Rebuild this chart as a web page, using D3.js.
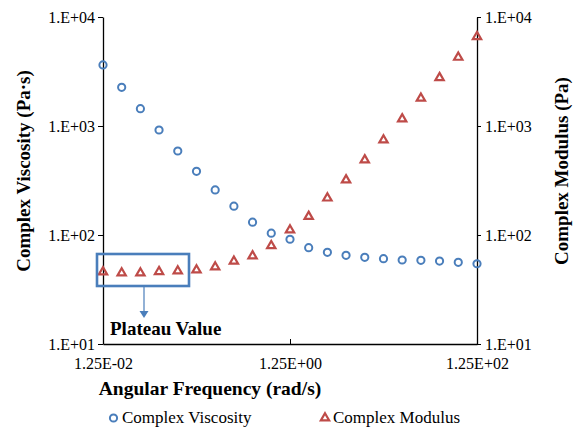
<!DOCTYPE html>
<html>
<head>
<meta charset="utf-8">
<script src="https://cdn.jsdelivr.net/npm/d3@7"></script>
<style>
  body { margin: 0; background: #fff; }
  svg { display: block; }
</style>
</head>
<body>
<script>
// frequency points: 10 per decade from 0.0125 to 125 rad/s
const freq = [0.0125, 0.0157, 0.0198, 0.0249, 0.0314, 0.0395, 0.0497, 0.0626, 0.0788, 0.0992,
  0.125, 0.157, 0.198, 0.249, 0.314, 0.395, 0.497, 0.626, 0.788, 0.992,
  1.25, 1.57, 1.98, 2.49, 3.14, 3.95, 4.97, 6.26, 7.88, 9.92,
  12.5, 15.7, 19.8, 24.9, 31.4, 39.5, 49.7, 62.6, 78.8, 99.2, 125];
// only every other frequency is shown (5 per decade)
const shownFreq = freq.filter((d, i) => i % 2 === 0);

const viscosity = [3630, 2265, 1441, 919, 590, 384, 259, 184, 131, 104,
  91.4, 76.5, 69.4, 65.1, 62.4, 60.6, 59.0, 58.6, 57.7, 56.2, 54.5];
const modulus = [45.8, 44.8, 44.8, 46.1, 46.7, 47.7, 50.8, 57.4, 64.2, 79.7,
  111, 148, 218, 320, 488, 744, 1160, 1795, 2773, 4266, 6600];

const yTicks = [10, 100, 1000, 10000];
const yTickLabels = ["1.E+01", "1.E+02", "1.E+03", "1.E+04"];
const xTicks = [0.0125, 1.25, 125];
const xTickLabels = ["1.25E-02", "1.25E+00", "1.25E+02"];

const width = 576, height = 430;
const margin = { top: 17, right: 99, bottom: 86, left: 103 };
const font = "'Liberation Serif', 'Times New Roman', serif";

const blue = "#4a7ebb";
const red = "#be4b48";

const svg = d3.select("body").append("svg")
  .attr("width", width)
  .attr("height", height)
  .style("font-family", font);

const x = d3.scaleLog()
  .domain([0.0125, 125])
  .range([margin.left, width - margin.right]);

const y = d3.scaleLog()
  .domain([10, 10000])
  .range([height - margin.bottom, margin.top]);

const y2 = y.copy();

// axes
const xAxis = svg.append("g")
  .attr("transform", `translate(0,${height - margin.bottom})`)
  .call(d3.axisBottom(x).tickValues(xTicks).tickSizeInner(-5).tickSizeOuter(0)
    .tickFormat((d, i) => xTickLabels[i]));
xAxis.attr("font-family", null);
xAxis.select(".domain").attr("stroke", "#000").attr("stroke-width", 1.3);
xAxis.selectAll(".tick line").attr("stroke", "#000");
xAxis.selectAll(".tick text")
  .attr("y", 14)
  .attr("font-size", 16)
  .attr("fill", "#000");

const yAxis = svg.append("g")
  .attr("transform", `translate(${margin.left},0)`)
  .call(d3.axisLeft(y).tickValues(yTicks).tickSize(5).tickSizeOuter(0)
    .tickFormat((d, i) => yTickLabels[i]));
yAxis.attr("font-family", null);
yAxis.select(".domain").attr("stroke", "#000").attr("stroke-width", 1.3);
yAxis.selectAll(".tick line").attr("stroke", "#000");
yAxis.selectAll(".tick text")
  .attr("x", -8)
  .attr("font-size", 16)
  .attr("fill", "#000");

const yAxisR = svg.append("g")
  .attr("transform", `translate(${width - margin.right},0)`)
  .call(d3.axisRight(y2).tickValues(yTicks).tickSize(4).tickSizeOuter(0)
    .tickFormat((d, i) => yTickLabels[i]));
yAxisR.attr("font-family", null);
yAxisR.select(".domain").attr("stroke", "#000").attr("stroke-width", 1.3);
yAxisR.selectAll(".tick line").attr("stroke", "#000");
yAxisR.selectAll(".tick text")
  .attr("x", 8)
  .attr("font-size", 16)
  .attr("fill", "#000");

// axis titles
svg.append("text")
  .attr("x", 210)
  .attr("y", 395)
  .attr("text-anchor", "middle")
  .attr("font-weight", "bold")
  .attr("font-size", 19.5)
  .text("Angular Frequency (rad/s)");

svg.append("text")
  .attr("transform", `translate(30,171) rotate(-90)`)
  .attr("text-anchor", "middle")
  .attr("font-weight", "bold")
  .attr("font-size", 19)
  .text("Complex Viscosity (Pa·s)");

svg.append("text")
  .attr("transform", `translate(568,171) rotate(-90)`)
  .attr("text-anchor", "middle")
  .attr("font-weight", "bold")
  .attr("font-size", 19)
  .text("Complex Modulus (Pa)");

// markers
const tri = d3.symbol().type(d3.symbolTriangle).size(30);

svg.append("g")
  .selectAll("circle")
  .data(viscosity)
  .join("circle")
  .attr("cx", (d, i) => x(shownFreq[i]))
  .attr("cy", d => y(d))
  .attr("r", 3.6)
  .attr("fill", "none")
  .attr("stroke", blue)
  .attr("stroke-width", 2);

svg.append("g")
  .selectAll("path")
  .data(modulus)
  .join("path")
  .attr("d", tri)
  .attr("transform", (d, i) => `translate(${x(shownFreq[i])},${y2(d)})`)
  .attr("fill", "none")
  .attr("stroke", red)
  .attr("stroke-width", 2.2);

// plateau annotation
svg.append("rect")
  .attr("x", 97)
  .attr("y", 254)
  .attr("width", 92)
  .attr("height", 32)
  .attr("fill", "none")
  .attr("stroke", blue)
  .attr("stroke-width", 2.6);

svg.append("line")
  .attr("x1", 144).attr("y1", 287)
  .attr("x2", 144).attr("y2", 312)
  .attr("stroke", blue)
  .attr("stroke-width", 1.2);
svg.append("path")
  .attr("d", "M139.5,311 L148.5,311 L144,318 Z")
  .attr("fill", blue);

svg.append("text")
  .attr("x", 110)
  .attr("y", 335)
  .attr("font-weight", "bold")
  .attr("font-size", 19)
  .text("Plateau Value");

// legend
const legend = svg.append("g");
legend.append("circle")
  .attr("cx", 113.5).attr("cy", 418)
  .attr("r", 3.6)
  .attr("fill", "none")
  .attr("stroke", blue)
  .attr("stroke-width", 2);
legend.append("text")
  .attr("x", 122).attr("y", 423)
  .attr("font-size", 17)
  .text("Complex Viscosity");
legend.append("path")
  .attr("d", tri)
  .attr("transform", "translate(325,418)")
  .attr("fill", "none")
  .attr("stroke", red)
  .attr("stroke-width", 2.2);
legend.append("text")
  .attr("x", 333).attr("y", 423)
  .attr("font-size", 17)
  .text("Complex Modulus");
</script>
</body>
</html>
